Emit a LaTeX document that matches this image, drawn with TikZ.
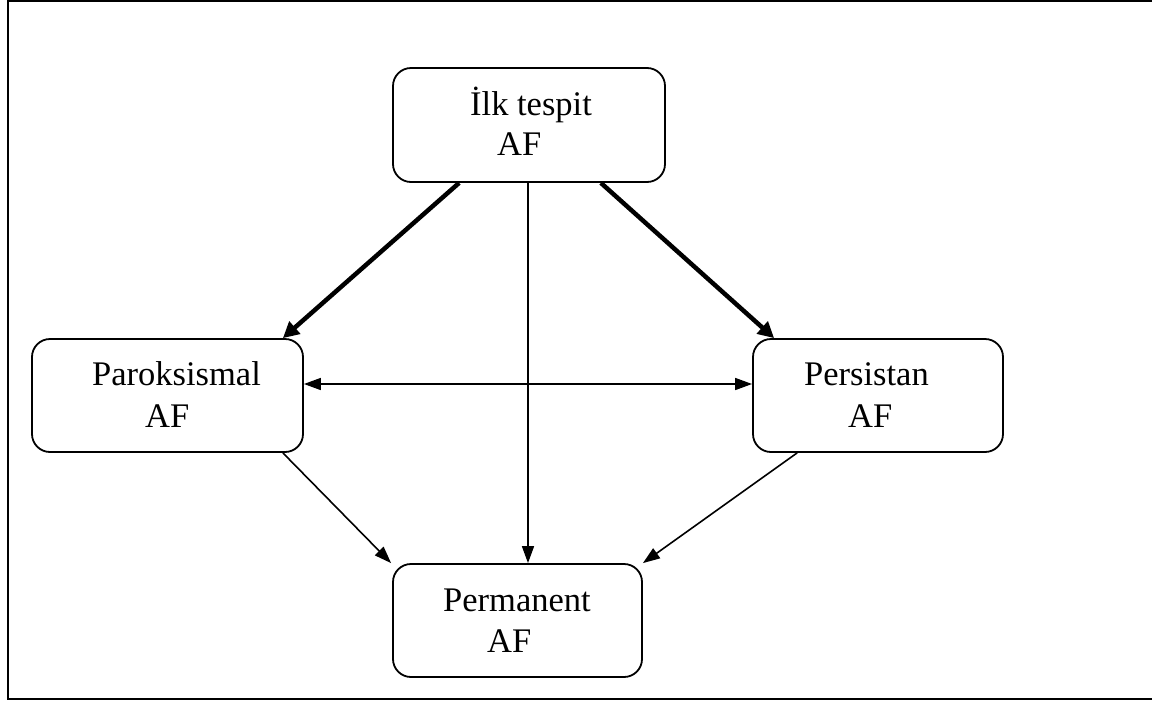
\documentclass[tikz,border=0pt]{standalone}
\usepackage{fontspec}
\setmainfont{Liberation Serif}
\usetikzlibrary{arrows.meta}
\begin{document}
\begin{tikzpicture}[x=1pt,y=-1pt,
  box/.style={draw,line width=1.8pt,rounded corners=18pt,inner sep=0pt,minimum width=#1,minimum height=113pt},
  txt/.style={inner sep=0pt,anchor=base west,font=\fontsize{34.5}{41}\selectfont},
  thin/.style={line width=1.6pt,-{Triangle[length=17pt,width=12pt]}},
  thick/.style={line width=4.5pt,-{Triangle[length=16pt,width=16pt]}},
  both/.style={line width=1.6pt,{Triangle[length=17pt,width=12pt]}-{Triangle[length=17pt,width=12pt]}}]
\useasboundingbox (0,0) rectangle (1152,702);
\draw[line width=2pt] (1152,1) -- (8,1) -- (8,699) -- (1152,699);
\node[box=272pt,minimum height=114pt] (top) at (529,125) {};
\node[box=271pt] (par) at (167.5,395.5) {};
\node[box=250pt] (per) at (878,395.5) {};
\node[box=249pt] (perm) at (517.5,620.5) {};
\node[txt] (t1) at (470,115) {İlk tespit};
\node[txt] (t1b) at (497,155) {AF};
\node[txt] (t2) at (92,385) {Paroksismal};
\node[txt] (t2b) at (145,427) {AF};
\node[txt] (t3) at (804,385) {Persistan};
\node[txt] (t3b) at (848,427) {AF};
\node[txt] (t4) at (443,611) {Permanent};
\node[txt] (t4b) at (487,652) {AF};
\draw[thick] ([xshift=67pt]top.south west) -- ([xshift=-21pt]par.north east);
\draw[thick] ([xshift=-65pt]top.south east) -- ([xshift=22pt]per.north west);
\coordinate (vtop) at ([xshift=-1pt]top.south);
\draw[thin] (vtop) -- (vtop |- perm.north);
\draw[both] ([yshift=11.5pt]par.east) -- ([yshift=11.5pt]per.west);
\draw[thin] ([xshift=-21pt]par.south east) -- ([xshift=-1pt]perm.north west);
\draw[thin] ([xshift=45pt]per.south west) -- (perm.north east);
\end{tikzpicture}
\end{document}
